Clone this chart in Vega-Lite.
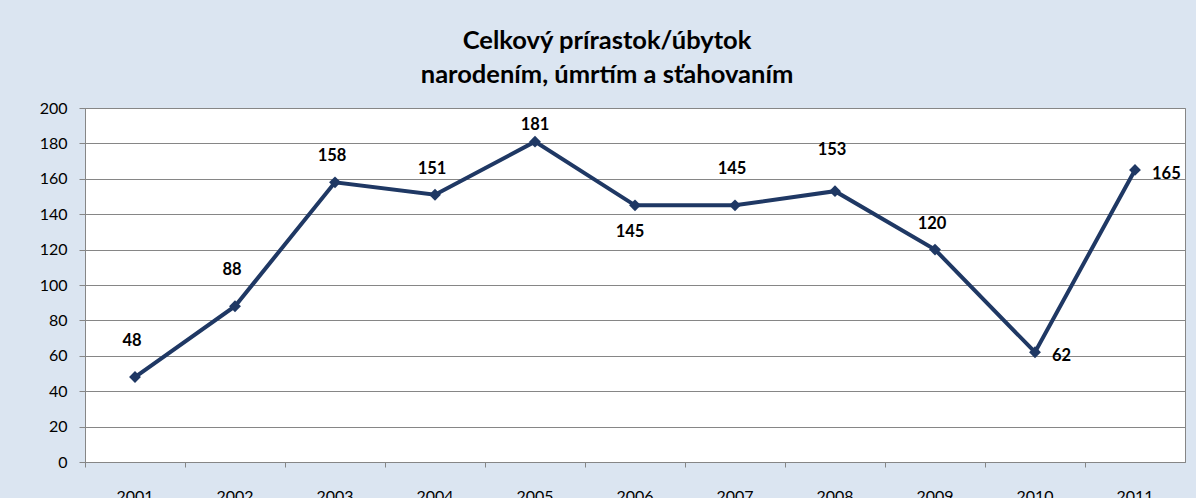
{
  "$schema": "https://vega.github.io/schema/vega-lite/v6.json",
  "autosize": {"type": "none"},
  "width": 1100,
  "height": 354,
  "padding": {"left": 85, "top": 108, "right": 11, "bottom": 36},
  "background": "#dbe5f1",
  "title": {
    "text": ["Celkový prírastok/úbytok", "narodením, úmrtím a sťahovaním"],
    "font": "Lato",
    "fontSize": 25.5,
    "fontWeight": "bold",
    "color": "#000000",
    "lineHeight": 34,
    "anchor": "middle",
    "dx": -28,
    "offset": 12
  },
  "config": {
    "view": {"fill": "#ffffff", "stroke": "#868686", "strokeWidth": 1},
    "axis": {"labelFont": "Lato", "labelFontSize": 16, "labelColor": "#000000", "domainColor": "#868686", "tickColor": "#868686", "gridColor": "#868686", "title": null}
  },
  "data": {
    "values": [
      {"year": "2001", "value": 48},
      {"year": "2002", "value": 88},
      {"year": "2003", "value": 158},
      {"year": "2004", "value": 151},
      {"year": "2005", "value": 181},
      {"year": "2006", "value": 145},
      {"year": "2007", "value": 145},
      {"year": "2008", "value": 153},
      {"year": "2009", "value": 120},
      {"year": "2010", "value": 62},
      {"year": "2011", "value": 165}
    ]
  },
  "encoding": {
    "x": {
      "field": "year", "type": "ordinal",
      "scale": {"type": "band", "paddingInner": 0, "paddingOuter": 0},
      "axis": {"labelAngle": 0, "bandPosition": 0, "tickSize": 5, "labelPadding": 21, "grid": false, "domainWidth": 1}
    },
    "y": {
      "field": "value", "type": "quantitative",
      "scale": {"domain": [0, 200], "nice": false},
      "axis": {"values": [0, 20, 40, 60, 80, 100, 120, 140, 160, 180, 200], "tickSize": 6, "labelPadding": 12, "grid": true, "gridWidth": 1}
    }
  },
  "layer": [
    {"mark": {"type": "line", "color": "#1f3864", "strokeWidth": 4}},
    {"mark": {"type": "point", "shape": "diamond", "filled": true, "color": "#1f3864", "size": 140, "opacity": 1}},
    {
      "transform": [{"filter": "indexof(['2001','2002','2007'], datum.year) >= 0"}],
      "mark": {"type": "text", "font": "Lato", "fontWeight": "bold", "fontSize": 16.5, "color": "#000000", "dy": -36, "dx": -3},
      "encoding": {"text": {"field": "value"}}
    },
    {
      "transform": [{"filter": "datum.year == '2008'"}],
      "mark": {"type": "text", "font": "Lato", "fontWeight": "bold", "fontSize": 16.5, "color": "#000000", "dy": -41, "dx": -3},
      "encoding": {"text": {"field": "value"}}
    },
    {
      "transform": [{"filter": "indexof(['2003','2004','2009'], datum.year) >= 0"}],
      "mark": {"type": "text", "font": "Lato", "fontWeight": "bold", "fontSize": 16.5, "color": "#000000", "dy": -26, "dx": -3},
      "encoding": {"text": {"field": "value"}}
    },
    {
      "transform": [{"filter": "datum.year == '2005'"}],
      "mark": {"type": "text", "font": "Lato", "fontWeight": "bold", "fontSize": 16.5, "color": "#000000", "dy": -17},
      "encoding": {"text": {"field": "value"}}
    },
    {
      "transform": [{"filter": "datum.year == '2006'"}],
      "mark": {"type": "text", "font": "Lato", "fontWeight": "bold", "fontSize": 16.5, "color": "#000000", "dy": 27, "dx": -5},
      "encoding": {"text": {"field": "value"}}
    },
    {
      "transform": [{"filter": "datum.year == '2010' || datum.year == '2011'"}],
      "mark": {"type": "text", "font": "Lato", "fontWeight": "bold", "fontSize": 16.5, "color": "#000000", "align": "left", "dx": 17, "dy": 4},
      "encoding": {"text": {"field": "value"}}
    }
  ]
}
